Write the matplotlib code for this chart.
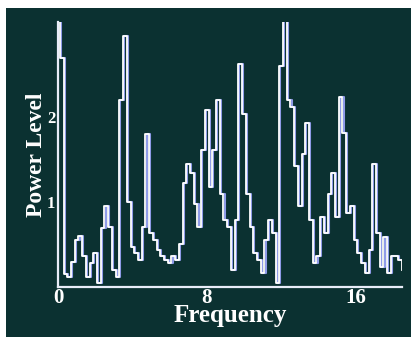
import matplotlib.pyplot as plt
from matplotlib.patches import Rectangle
import numpy as np

# power levels, one every 0.2 in frequency
power = [3.2, 2.7, 0.15, 0.12, 0.3, 0.55, 0.6, 0.36, 0.12, 0.28,
         0.4, 0.05, 0.69, 0.95, 0.71, 0.2, 0.12, 2.2, 2.95, 1.0,
         0.47, 0.4, 0.32, 0.71, 1.8, 0.63, 0.55, 0.44, 0.36, 0.32,
         0.28, 0.36, 0.32, 0.51, 1.22, 1.45, 1.34, 0.98, 0.71, 1.61,
         2.08, 1.18, 1.61, 2.2, 1.1, 0.79, 0.71, 0.2, 0.79, 2.63,
         2.04, 1.1, 0.71, 0.4, 0.32, 0.16, 0.55, 0.79, 0.63, 0.05,
         2.6, 3.2, 2.2, 2.12, 1.42, 0.95, 1.57, 1.93, 0.79, 0.28,
         0.36, 0.83, 0.63, 1.1, 1.34, 0.83, 2.24, 1.81, 0.87, 0.95,
         0.55, 0.4, 0.28, 0.16, 0.44, 1.45, 0.63, 0.24, 0.59, 0.16,
         0.36, 0.36, 0.32, 0.2]
freq = 0.2 * np.arange(len(power)) - 0.1
xticks = [0, 8, 16]
yticks = [1, 2]

bg = "#0b3131"
serif = ["Liberation Serif", "DejaVu Serif"]

fig = plt.figure(figsize=(4.11, 3.39), dpi=100, facecolor="white")
fig.patches.append(Rectangle((6 / 411, 2 / 339), 405 / 411, 329 / 339,
                             transform=fig.transFigure, facecolor=bg,
                             edgecolor="none", zorder=-10))

ax = fig.add_axes([58 / 411, 52 / 339, 344 / 411, 265 / 339])
ax.set_facecolor("none")

# bluish shadow line and the white trace on top
ax.step(freq + 0.06, power, where="post", color="#8f9be8", lw=1.5)
ax.step(freq, power, where="post", color="white", lw=1.3)

ax.set_xlim(0, 18.5)
ax.set_ylim(0, 3.12)

for s in ["top", "right"]:
    ax.spines[s].set_visible(False)
for s in ["left", "bottom"]:
    ax.spines[s].set_color("#e8ecf8")
    ax.spines[s].set_linewidth(1.6)

ax.set_xticks(xticks)
ax.set_xticklabels([str(t) for t in xticks])
ax.set_yticks(yticks)
ax.set_yticklabels([str(t) for t in yticks])
ax.tick_params(axis="x", length=0, colors="white", labelsize=15, pad=1)
ax.tick_params(axis="y", length=0, colors="white", labelsize=12, pad=2)
for lab in ax.get_xticklabels() + ax.get_yticklabels():
    lab.set_family(serif)
    lab.set_weight("bold")

ax.set_xlabel("Frequency", color="white", fontsize=18, fontweight="bold",
              family=serif, labelpad=-3)
ax.set_ylabel("Power Level", color="white", fontsize=17, fontweight="bold",
              family=serif, labelpad=0)

plt.savefig("out.png", dpi=100, facecolor="white")
